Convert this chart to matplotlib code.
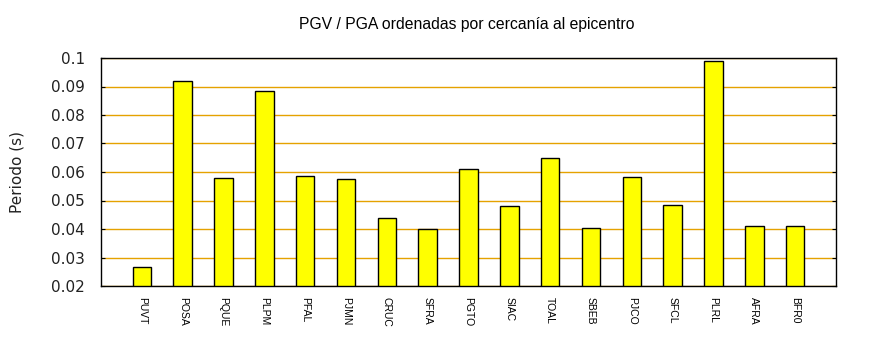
import matplotlib
matplotlib.use("Agg")
import matplotlib.pyplot as plt
import numpy as np

# estaciones ordenadas por distancia al epicentro
stations = ["PUVT", "POSA", "PQUE", "PLPM", "PFAL", "PJMN", "CRUC", "SFRA", "PGTO",
            "SIAC", "TOAL", "SBEB", "PJCO", "SFCL", "PLRL", "AFRA", "BFR0"]
periodo = [0.0266, 0.0918, 0.0578, 0.0883, 0.0586, 0.0574, 0.0437, 0.0400, 0.0611,
           0.0479, 0.0649, 0.0402, 0.0582, 0.0484, 0.0988, 0.0411, 0.0411]
yticks = [0.02, 0.03, 0.04, 0.05, 0.06, 0.07, 0.08, 0.09, 0.1]

fig = plt.figure(figsize=(8.7, 3.5), dpi=100)
ax = fig.add_axes([101 / 870, 64 / 350, 735 / 870, 228 / 350])

x = np.arange(len(stations))
ax.bar(x, periodo, width=0.45, bottom=0, color="#ffff00", edgecolor="black",
       linewidth=1.0, zorder=3)

ax.set_xlim(-1, len(stations))
ax.set_ylim(0.02, 0.1)
ax.set_yticks(yticks)
ax.set_yticklabels(["%g" % v for v in yticks], fontsize=11, family="DejaVu Sans",
                   color="#222222")
ax.yaxis.grid(True, color="#e5a200", linewidth=1.0, zorder=1)
ax.tick_params(axis="y", direction="in", length=3, right=True, pad=11.5)

ax.set_xticks(x)
ax.set_xticklabels(stations, rotation=270, fontsize=7.5,
                   family=["Liberation Sans Narrow", "Liberation Sans", "DejaVu Sans"])
ax.tick_params(axis="x", length=0, pad=8)

for s in ax.spines.values():
    s.set_linewidth(1.0)
    s.set_zorder(4)

ax.set_ylabel("Periodo (s)", fontsize=11, family="DejaVu Sans", color="#222222",
              labelpad=19)
fig.text(467 / 870, 1 - 24 / 350, "PGV / PGA ordenadas por cercanía al epicentro",
         ha="center", va="center", fontsize=11.3, family="Liberation Sans")

fig.savefig("out.png", dpi=100)
